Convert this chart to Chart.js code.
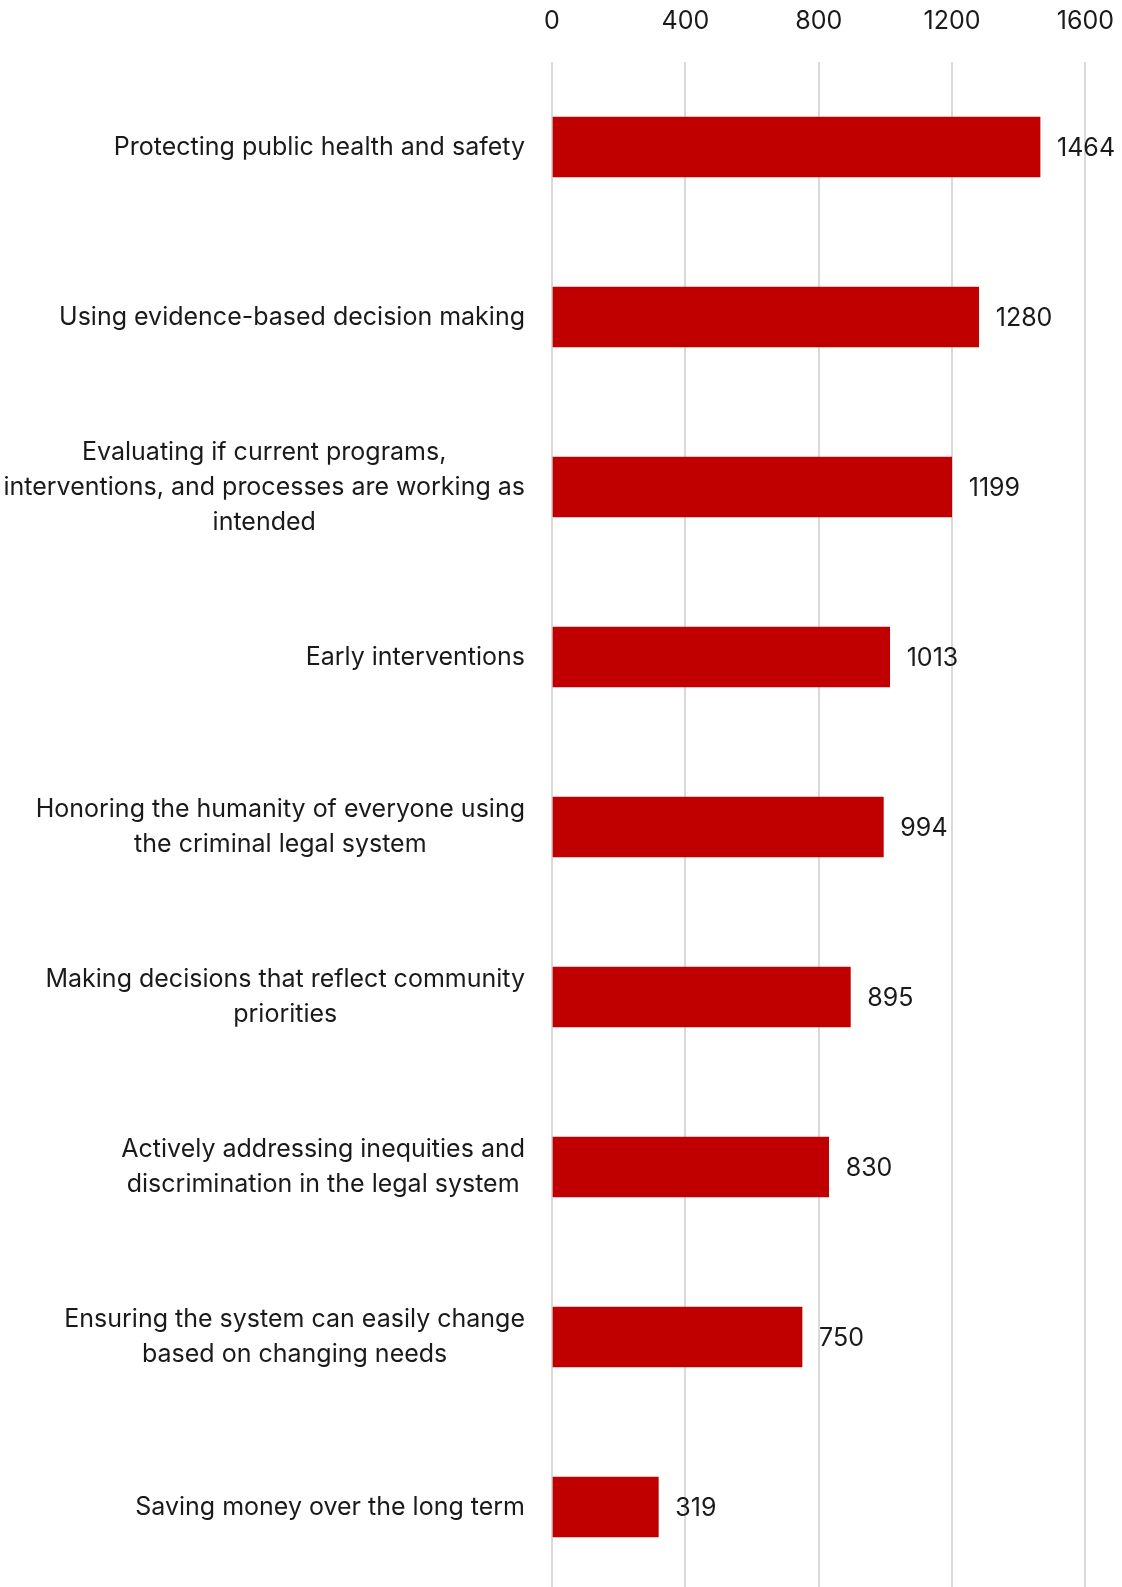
<!DOCTYPE html>
<html>
<head>
<meta charset="utf-8">
<script src="https://cdn.jsdelivr.net/npm/chart.js@4/dist/chart.umd.min.js"></script>
<style>
  html, body { margin: 0; padding: 0; background: #fff; overflow: hidden; }
  #wrap { width: 1140px; height: 1612px; margin-top: -20px; }
</style>
</head>
<body>
<div id="wrap"><canvas id="chart"></canvas></div>
<script>
// Categories (each entry is a list of wrapped lines)
const categories = [
    ['Protecting public health and safety'],
    ['Using evidence-based decision making'],
    ['Evaluating if current programs,', 'interventions, and processes are working as', 'intended'],
    ['Early interventions'],
    ['Honoring the humanity of everyone using', 'the criminal legal system'],
    ['Making decisions that reflect community', 'priorities'],
    ['Actively addressing inequities and', 'discrimination in the legal system'],
    ['Ensuring the system can easily change', 'based on changing needs'],
    ['Saving money over the long term']
];
const counts = [1464, 1280, 1199, 1013, 994, 895, 830, 750, 319];
const axisTicks = [0, 400, 800, 1200, 1600];

const FONT = 'Inter, Lato, sans-serif';
const FONT_SIZE = 25;
const TEXT_COLOR = '#1a1a1a';

// Category labels: block right-aligned to the axis, lines centred inside the block
const categoryLabels = {
    id: 'categoryLabels',
    afterDraw(chart) {
        const ctx = chart.ctx;
        const y = chart.scales.y;
        const rightEdge = chart.chartArea.left - 27;
        const lineHeight = 35;
        ctx.save();
        ctx.font = `${FONT_SIZE}px ${FONT}`;
        ctx.fillStyle = TEXT_COLOR;
        ctx.textAlign = 'center';
        ctx.textBaseline = 'middle';
        categories.forEach((lines, i) => {
            const cy = y.getPixelForValue(i);
            const blockW = Math.max(...lines.map(l => ctx.measureText(l).width));
            const cx = rightEdge - blockW / 2;
            const top = cy - (lines.length - 1) * lineHeight / 2;
            lines.forEach((l, j) => ctx.fillText(l, cx, top + j * lineHeight));
        });
        ctx.restore();
    }
};

// Value labels just past the end of each bar
const valueLabels = {
    id: 'valueLabels',
    afterDatasetsDraw(chart) {
        const ctx = chart.ctx;
        const meta = chart.getDatasetMeta(0);
        ctx.save();
        ctx.font = `${FONT_SIZE}px ${FONT}`;
        ctx.fillStyle = TEXT_COLOR;
        ctx.textAlign = 'left';
        ctx.textBaseline = 'middle';
        meta.data.forEach((bar, i) => {
            ctx.fillText(String(counts[i]), bar.x + 17, bar.y + 1);
        });
        ctx.restore();
    }
};

new Chart(document.getElementById('chart'), {
    type: 'bar',
    data: {
        labels: categories.map(c => c.join(' ')),
        datasets: [{
            data: counts,
            backgroundColor: '#C00000',
            borderWidth: 0,
            barThickness: 60
        }]
    },
    options: {
        indexAxis: 'y',
        responsive: true,
        maintainAspectRatio: false,
        animation: false,
        layout: {
            padding: { left: 552, right: 36, top: 0, bottom: 0 }
        },
        plugins: {
            legend: { display: false },
            tooltip: { enabled: false }
        },
        scales: {
            x: {
                position: 'top',
                min: 0,
                max: 1600,
                afterBuildTicks: (scale) => {
                    scale.ticks = axisTicks.map(v => ({ value: v }));
                },
                border: { display: false },
                grid: {
                    color: '#d9d9d9',
                    lineWidth: 2,
                    drawTicks: false
                },
                ticks: {
                    padding: 26,
                    color: TEXT_COLOR,
                    font: { family: FONT, size: FONT_SIZE },
                    callback: (v) => String(v)
                }
            },
            y: {
                border: { display: false },
                grid: { display: false, drawTicks: false },
                ticks: { display: false }
            }
        }
    },
    plugins: [categoryLabels, valueLabels]
});
</script>
</body>
</html>
